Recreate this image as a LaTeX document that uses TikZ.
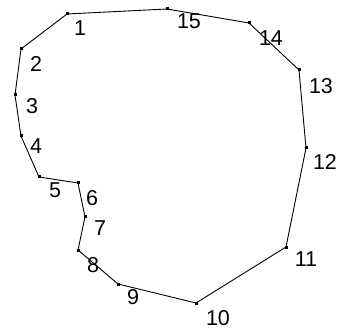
\documentclass[tikz,border=0pt]{standalone}
\usepackage{fontspec}
\setmainfont{Liberation Sans}
\begin{document}
\begin{tikzpicture}[x=1pt,y=-1pt,
  pt/.style={fill=black,inner sep=0pt,minimum size=3pt,rectangle},
  lbl/.style={font=\fontsize{21.5}{21.5}\selectfont,inner sep=0pt},
  edge/.style={line width=0.9pt}]
\useasboundingbox[fill=white] (0,0) rectangle (343,334);
\node[pt] (p1) at (67,14) {};
\node[pt] (p2) at (21,49) {};
\node[pt] (p3) at (15,95) {};
\node[pt] (p4) at (21,136) {};
\node[pt] (p5) at (39,177) {};
\node[pt] (p6) at (78,183) {};
\node[pt] (p7) at (85,217) {};
\node[pt] (p8) at (78,250) {};
\node[pt] (p9) at (118,284) {};
\node[pt] (p10) at (196,303) {};
\node[pt] (p11) at (286,247) {};
\node[pt] (p12) at (306,148) {};
\node[pt] (p13) at (299,70) {};
\node[pt] (p14) at (249,23) {};
\node[pt] (p15) at (167,9) {};
\draw[edge] (p1.center) -- (p2.center) -- (p3.center) -- (p4.center) -- (p5.center) -- (p6.center) -- (p7.center) -- (p8.center) -- (p9.center) -- (p10.center) -- (p11.center) -- (p12.center) -- (p13.center) -- (p14.center) -- (p15.center) -- (p1.center);
\node[lbl] (l1) at (80,28) {1};
\node[lbl] (l2) at (36,64) {2};
\node[lbl] (l3) at (32,106) {3};
\node[lbl] (l4) at (36,146) {4};
\node[lbl] (l5) at (55,190) {5};
\node[lbl] (l6) at (92,198) {6};
\node[lbl] (l7) at (100,228) {7};
\node[lbl] (l8) at (93,265) {8};
\node[lbl] (l9) at (133,297) {9};
\node[lbl] (l10) at (218,318) {10};
\node[lbl] (l11) at (306,259) {11};
\node[lbl] (l12) at (325,162) {12};
\node[lbl] (l13) at (321,86) {13};
\node[lbl] (l14) at (271,38) {14};
\node[lbl] (l15) at (189,21) {15};
\end{tikzpicture}
\end{document}
